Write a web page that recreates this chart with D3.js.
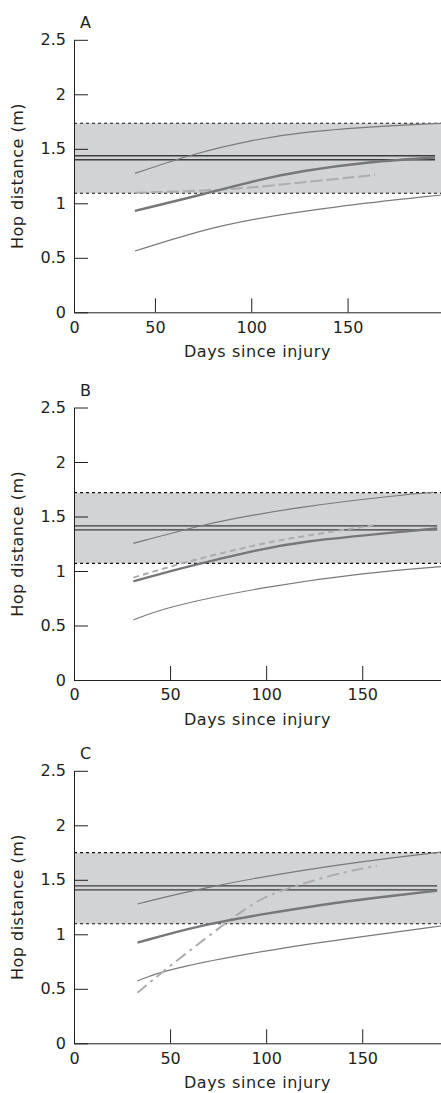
<!DOCTYPE html>
<html>
<head>
<meta charset="utf-8">
<script src="https://cdn.jsdelivr.net/npm/d3@7"></script>
<style>
	body { margin: 0; background: #fff; }
	svg text { font-family: "DejaVu Sans", sans-serif; fill: #231f20; }
</style>
</head>
<body>
<svg></svg>
<script>
// panel letters and per-panel x extents (days)
const panelLabels = ['A', 'B', 'C'];
const xStart = [8, 0, 0];
const xEnd = [198.5, 191, 191];
const xTicks = [50, 100, 150];
const yTicks = [0, 0.5, 1, 1.5, 2, 2.5];

// normal reference band and mean of uninjured limb (m)
const bandLow = [1.092, 1.070, 1.097];
const bandHigh = [1.734, 1.719, 1.749];
const normMean = [1.418, 1.396, 1.426];
const normEnd = [195.4, 189, 189];

// [day, hop distance]
const upperA = [[39.6, 1.275], [73.4, 1.473], [99.3, 1.574], [125.3, 1.657], [177.2, 1.718], [198.5, 1.734]];
const meanA = [[39.6, 0.93], [76.8, 1.09], [104.5, 1.22], [125.3, 1.295], [159.9, 1.38], [195.4, 1.42]];
const lowerA = [[39.6, 0.562], [73.4, 0.75], [99.3, 0.853], [142.4, 0.969], [198.5, 1.076]];
const patientA = [[39.6, 1.097], [71.6, 1.113], [97.6, 1.138], [125.3, 1.19], [164.2, 1.26]];

const upperB = [[30.9, 1.254], [65.6, 1.416], [81.3, 1.475], [117.7, 1.59], [169.8, 1.697], [187, 1.722]];
const meanB = [[30.9, 0.905], [58.7, 1.042], [96.9, 1.199], [117.7, 1.27], [169.8, 1.36], [189, 1.39]];
const lowerB = [[30.9, 0.55], [48.3, 0.673], [100.3, 0.86], [152.4, 0.985], [191, 1.04]];
const patientB = [[30.9, 0.939], [58.7, 1.088], [96.9, 1.25], [117.7, 1.315], [156, 1.42]];

const upperC = [[33, 1.278], [65.6, 1.422], [117.7, 1.59], [169.8, 1.712], [191, 1.755]];
const meanC = [[33, 0.923], [65.6, 1.085], [100.3, 1.19], [135, 1.29], [169.8, 1.362], [189, 1.40]];
const lowerC = [[33, 0.572], [48.3, 0.68], [100.3, 0.856], [152.4, 0.985], [191, 1.076]];
const patientC = [[33, 0.464], [48.3, 0.688], [70.8, 0.994], [95, 1.32], [112.5, 1.43], [135, 1.55], [157.6, 1.63]];

const uppers = [upperA, upperB, upperC];
const means = [meanA, meanB, meanC];
const lowers = [lowerA, lowerB, lowerC];
const patients = [patientA, patientB, patientC];
const patientDash = ['12,4', '6,4', '12,5,3,5'];

const width = 441;
const height = 1093;
const left = 74;
const right = 441;
const zeroY = [312.3, 680, 1043.3];
const pxPerUnit = 109;

const svg = d3.select('svg')
	.attr('width', width)
	.attr('height', height);

panelLabels.forEach((label, i) => {
	const x = d3.scaleLinear()
		.domain([xStart[i], xEnd[i]])
		.range([left, right]);
	const y = d3.scaleLinear()
		.domain([0, 2.5])
		.range([zeroY[i], zeroY[i] - 2.5 * pxPerUnit]);

	const g = svg.append('g');

	// shaded normal range
	g.append('rect')
		.attr('x', x(xStart[i]))
		.attr('y', y(bandHigh[i]))
		.attr('width', x(xEnd[i]) - x(xStart[i]))
		.attr('height', y(bandLow[i]) - y(bandHigh[i]))
		.attr('fill', '#d2d3d5');

	[bandLow[i], bandHigh[i]].forEach(v => {
		g.append('line')
			.attr('x1', x(xStart[i])).attr('x2', x(xEnd[i]))
			.attr('y1', y(v)).attr('y2', y(v))
			.attr('stroke', '#111')
			.attr('stroke-width', 1.1)
			.attr('stroke-dasharray', '3,3');
	});

	// mean of normal drawn as a double line
	[-2, 2].forEach(off => {
		g.append('line')
			.attr('x1', x(xStart[i])).attr('x2', x(normEnd[i]))
			.attr('y1', y(normMean[i]) + off).attr('y2', y(normMean[i]) + off)
			.attr('stroke', '#3d3d3f')
			.attr('stroke-width', 1.4);
	});

	const line = d3.line()
		.x(d => x(d[0]))
		.y(d => y(d[1]))
		.curve(d3.curveBasis);

	[uppers[i], lowers[i]].forEach(s => {
		g.append('path')
			.attr('d', line(s))
			.attr('fill', 'none')
			.attr('stroke', '#7a7a7c')
			.attr('stroke-width', 1.2);
	});

	g.append('path')
		.attr('d', line(patients[i]))
		.attr('fill', 'none')
		.attr('stroke', '#adadaf')
		.attr('stroke-width', 2)
		.attr('stroke-dasharray', patientDash[i]);

	g.append('path')
		.attr('d', line(means[i]))
		.attr('fill', 'none')
		.attr('stroke', '#77777a')
		.attr('stroke-width', 2.4);

	// axes
	const yAxis = d3.axisLeft(y)
		.tickValues(yTicks)
		.tickFormat(d => d)
		.tickSize(-14)
		.tickSizeOuter(0)
		.tickPadding(8);
	const yAxisG = g.append('g')
		.attr('transform', `translate(${left},0)`)
		.call(yAxis);

	const xAxis = d3.axisBottom(x)
		.tickValues([xStart[i]].concat(xTicks))
		.tickFormat(d => d === xStart[i] ? '0' : d)
		.tickSize(-14)
		.tickSizeOuter(0)
		.tickPadding(9);
	const xAxisG = g.append('g')
		.attr('transform', `translate(0,${zeroY[i]})`)
		.call(xAxis);

	[yAxisG, xAxisG].forEach(a => {
		a.selectAll('text').attr('font-size', 16).attr('font-family', null);
		a.selectAll('line, path').attr('stroke', '#231f20').attr('stroke-width', 1);
	});

	g.append('text')
		.attr('x', 80)
		.attr('y', y(2.5) - 12)
		.attr('font-size', 16)
		.text(label);

	g.append('text')
		.attr('x', (left + right) / 2)
		.attr('y', zeroY[i] + 45)
		.attr('text-anchor', 'middle')
		.attr('font-size', 16)
		.attr('letter-spacing', 0.6)
		.text('Days since injury');

	g.append('text')
		.attr('transform', `translate(23,${y(1.25)}) rotate(-90)`)
		.attr('text-anchor', 'middle')
		.attr('font-size', 16)
		.attr('letter-spacing', 0.5)
		.text('Hop distance (m)');
});
</script>
</body>
</html>
